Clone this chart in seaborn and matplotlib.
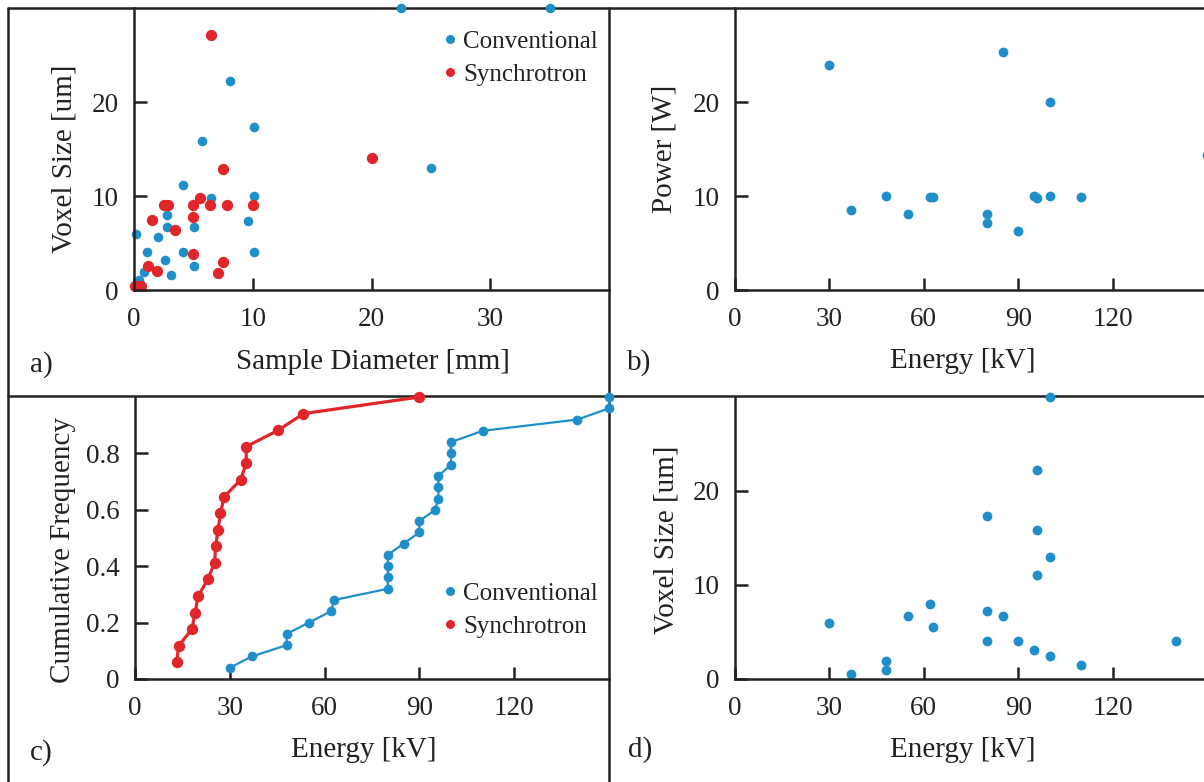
import matplotlib
matplotlib.use('Agg')
import matplotlib.pyplot as plt
from matplotlib.lines import Line2D
import seaborn as sns

sns.set_style('ticks')
plt.rcParams['font.family'] = ['Liberation Serif', 'DejaVu Serif']

BLUE = '#1f8fc9'
RED = '#e0262a'
INK = '#222222'

# a) sample diameter [mm] vs voxel size [um]
conv_diam = [22.5, 35, 8.1, 10.1, 5.7, 25, 4.1, 6.5, 10.1, 2.8, 2.8, 5.05, 9.6,
             0.15, 2.05, 1.1, 4.1, 10.1, 2.6, 5.05, 3.1, 0.85, 0.4]
conv_voxel = [30, 30, 22.2, 17.35, 15.9, 13, 11.2, 9.8, 10.05, 8, 6.7, 6.7, 7.3,
              6, 5.6, 4.05, 4.05, 4, 3.2, 2.6, 1.6, 1.95, 1.05]
sync_diam = [6.5, 20, 7.5, 2.55, 2.85, 5, 5.55, 6.4, 7.8, 10.05, 1.5, 5, 3.45,
             5, 7.5, 7.05, 1.2, 1.95, 0.1, 0.35, 0.6]
sync_voxel = [27.1, 14, 12.9, 9.05, 9.05, 9.05, 9.75, 9.05, 9.05, 9.05, 7.4, 7.75,
              6.4, 3.8, 3.0, 1.85, 2.55, 2.0, 0.4, 0.4, 0.4]

# b) energy [kV] vs power [W]
power_kv = [30, 37, 48, 55, 62, 63, 80, 80, 85, 90, 95, 96, 100, 100, 110, 150]
power_w = [23.9, 8.5, 10.05, 8.05, 9.9, 9.9, 8.05, 7.1, 25.3, 6.3, 9.95, 9.75,
           20, 10.05, 9.9, 14.4]

# c) cumulative frequency of energy
cdf_conv_kv = [30, 37, 48, 48, 55, 62, 63, 80, 80, 80, 80, 85, 90, 90, 95, 96, 96,
               96, 100, 100, 100, 110, 140, 150, 150]
cdf_conv = [0.04, 0.08, 0.12, 0.16, 0.20, 0.24, 0.28, 0.32, 0.36, 0.40, 0.44, 0.48,
            0.52, 0.56, 0.60, 0.64, 0.68, 0.72, 0.76, 0.80, 0.84, 0.88, 0.92, 0.96, 1.0]
cdf_sync_kv = [13.2, 13.8, 18, 19, 20, 23, 25.2, 25.5, 26.3, 27, 28.3, 33.4, 35.2,
               35.2, 45.3, 53.3, 90]
cdf_sync = [0.059, 0.118, 0.176, 0.235, 0.294, 0.353, 0.412, 0.471, 0.529, 0.588,
            0.647, 0.706, 0.765, 0.824, 0.882, 0.941, 1.0]

# d) energy [kV] vs voxel size [um]
voxel_kv = [30, 37, 48, 48, 55, 62, 63, 80, 80, 80, 85, 90, 95, 96, 96, 96, 100,
            100, 100, 110, 140, 150.5]
voxel_um = [6, 0.5, 1.95, 0.95, 6.7, 7.95, 5.55, 17.3, 7.25, 4, 6.7, 4, 3.1, 22.2,
            15.9, 11.1, 30, 13, 2.5, 1.5, 4, 10]

legend_labels = ['Conventional', 'Synchrotron']

W, H = 1204, 782
fig = plt.figure(figsize=(W / 100, H / 100), dpi=100)
fig.patch.set_facecolor('white')

box_a = (134, 8, 609, 290)
box_b = (735, 8, 1204, 290)
box_c = (135, 397, 609, 679)
box_d = (735, 397, 1204, 679)


def place(box):
    l, t, r, b = box
    ax = fig.add_axes([l / W, 1 - b / H, (r - l) / W, (b - t) / H])
    ax.patch.set_visible(False)
    return ax


def rel(box, px, py):
    l, t, r, b = box
    return (px - l) / (r - l), (b - py) / (b - t)


def style(ax, box, xlim, ylim, xticks, yticks, xlabel, ylabel, xl_pos, yl_pos,
          yticklabels=None):
    ax.set_xlim(*xlim)
    ax.set_ylim(*ylim)
    ax.set_xticks(xticks)
    ax.set_yticks(yticks)
    if yticklabels is not None:
        ax.set_yticklabels(yticklabels)
    for s in ['top', 'right']:
        ax.spines[s].set_visible(False)
    for s in ['left', 'bottom']:
        ax.spines[s].set_linewidth(1.8)
        ax.spines[s].set_color(INK)
    ax.tick_params(direction='in', length=9, width=1.8, color=INK,
                   labelsize=19.5, labelcolor=INK)
    ax.tick_params(axis='x', pad=12)
    ax.tick_params(axis='y', pad=11)
    ax.set_xlabel(xlabel, fontsize=21, color=INK)
    ax.set_ylabel(ylabel, fontsize=21, color=INK)
    ax.xaxis.set_label_coords(*rel(box, *xl_pos))
    ax.yaxis.set_label_coords(*rel(box, *yl_pos))


def add_legend(ax, x, y):
    handles = [Line2D([], [], ls='none', marker='o', ms=6.5, color=c, mew=0)
               for c in (BLUE, RED)]
    ax.legend(handles, legend_labels, loc='upper left',
              bbox_to_anchor=(x / W, 1 - y / H), bbox_transform=fig.transFigure,
              frameon=False, fontsize=18, handlelength=0.6, handletextpad=0.25,
              labelspacing=0.42, borderpad=0, borderaxespad=0,
              labelcolor=INK)


# a)
ax_a = place(box_a)
sns.scatterplot(x=conv_diam, y=conv_voxel, color=BLUE, s=48, linewidth=0,
                clip_on=False, ax=ax_a)
sns.scatterplot(x=sync_diam, y=sync_voxel, color=RED, s=66, linewidth=0,
                clip_on=False, ax=ax_a)
style(ax_a, box_a, (0, 40), (0, 30), [0, 10, 20, 30], [0, 10, 20],
      'Sample Diameter [mm]', 'Voxel Size [um]', (373, 349), (77, 159))
add_legend(ax_a, 442, 30)

# b)
ax_b = place(box_b)
sns.scatterplot(x=power_kv, y=power_w, color=BLUE, s=50, linewidth=0, ax=ax_b)
style(ax_b, box_b, (0, 149), (0, 30), [0, 30, 60, 90, 120], [0, 10, 20],
      'Energy [kV]', 'Power [W]', (963, 348), (678, 149))

# c)
ax_c = place(box_c)
sns.lineplot(x=cdf_conv_kv, y=cdf_conv, estimator=None, sort=False, color=BLUE,
             lw=1.6, marker='o', ms=7, mec=BLUE, mew=0, clip_on=False, ax=ax_c)
sns.lineplot(x=cdf_sync_kv, y=cdf_sync, estimator=None, sort=False, color=RED,
             lw=2.3, marker='o', ms=8.2, mec=RED, mew=0, clip_on=False, ax=ax_c)
style(ax_c, box_c, (0, 150), (0, 1.0), [0, 30, 60, 90, 120],
      [0, 0.2, 0.4, 0.6, 0.8], 'Energy [kV]', 'Cumulative Frequency',
      (364, 737), (76, 550), yticklabels=['0', '0.2', '0.4', '0.6', '0.8'])
add_legend(ax_c, 442, 582)

# d)
ax_d = place(box_d)
sns.scatterplot(x=voxel_kv, y=voxel_um, color=BLUE, s=50, linewidth=0,
                clip_on=False, ax=ax_d)
style(ax_d, box_d, (0, 149), (0, 30), [0, 30, 60, 90, 120], [0, 10, 20],
      'Energy [kV]', 'Voxel Size [um]', (963, 737), (679, 540))

# panel frame
frame = [((8, 1210), (8, 8)), ((8, 1210), (396, 396)),
         ((8, 8), (8, 790)), ((609, 609), (8, 790))]
for xs, ys in frame:
    fig.add_artist(Line2D([x / W for x in xs], [1 - y / H for y in ys],
                          transform=fig.transFigure, color=INK, lw=1.8,
                          zorder=-1))

for lab, x, y in [('a)', 30, 365), ('b)', 627, 363), ('c)', 30, 753), ('d)', 628, 750)]:
    fig.text(x / W, 1 - y / H, lab, fontsize=21, color=INK, va='center')

fig.savefig('out.png', dpi=100)
